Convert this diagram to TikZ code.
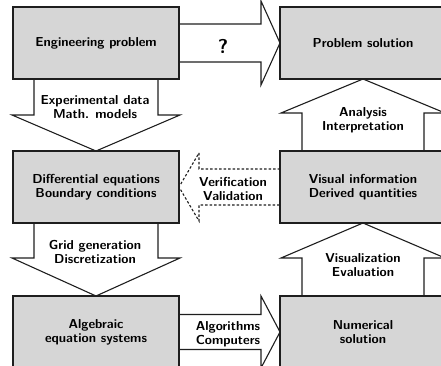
\documentclass[tikz,border=0pt]{standalone}
\usepackage{tikz}
\usetikzlibrary{calc,positioning}

\begin{document}
\begin{tikzpicture}[x=1pt,y=1pt,
  box/.style={draw=drawColor,fill=boxColor,line width=2.2pt,minimum width=166pt,minimum height=72pt,
    inner sep=0pt,outer sep=0pt,align=center,font=\fontsize{13}{14}\sffamily\bfseries},
  blockarrow/.style={draw=drawColor,line width=1.1pt,line join=miter},
  lbl/.style={align=center,inner sep=0pt,font=\fontsize{13}{14}\sffamily\bfseries}]
\definecolor{drawColor}{RGB}{30,30,30}
\definecolor{boxColor}{RGB}{214,214,214}
\path[use as bounding box] (0,0) rectangle (441,366);
\clip (0,0) rectangle (441,366);

% boxes
\node[box] (eng) at ( 96,323) {Engineering problem};
\node[box] (sol) at (363,323) {Problem solution};
\node[box] (dif) at ( 96,179) {Differential equations\\Boundary conditions};
\node[box] (vis) at (363,179) {Visual information\\Derived quantities};
\node[box] (alg) at ( 96, 34) {Algebraic\\equation systems};
\node[box] (num) at (363, 34) {Numerical\\solution};

% block arrows
\draw[blockarrow] ($(eng.east)+(0,19)$) -- ($(sol.west)+(-19,19)$) -- ($(sol.west)+(-19,42)$) --
	(sol.west) --
	($(sol.west)+(-19,-42)$) -- ($(sol.west)+(-19,-19)$) -- ($(eng.east)+(0,-19)$);

\draw[blockarrow] ($(eng.south)+(-62,0)$) -- ($(eng.south)+(-62,-36)$) -- ($(eng.south)+(-84,-36)$) --
	(dif.north) --
	($(eng.south)+(84,-36)$) -- ($(eng.south)+(62,-36)$) -- ($(eng.south)+(62,0)$);

\draw[blockarrow] ($(vis.north)+(-61,0)$) -- ($(vis.north)+(-61,38)$) -- ($(vis.north)+(-82,38)$) --
	(sol.south) --
	($(vis.north)+(82,38)$) -- ($(vis.north)+(61,38)$) -- ($(vis.north)+(61,0)$);

\draw[blockarrow,dash pattern=on 2.5pt off 2pt] ($(vis.west)+(0,18)$) -- ($(dif.east)+(20,18)$) -- ($(dif.east)+(20,34)$) --
	(dif.east) --
	($(dif.east)+(20,-34)$) -- ($(dif.east)+(20,-18)$) -- ($(vis.west)+(0,-18)$);

\draw[blockarrow] ($(dif.south)+(-62,0)$) -- ($(dif.south)+(-62,-35)$) -- ($(dif.south)+(-84,-35)$) --
	(alg.north) --
	($(dif.south)+(84,-35)$) -- ($(dif.south)+(62,-35)$) -- ($(dif.south)+(62,0)$);

\draw[blockarrow] ($(num.north)+(-61,0)$) -- ($(num.north)+(-61,38)$) -- ($(num.north)+(-82,38)$) --
	(vis.south) --
	($(num.north)+(82,38)$) -- ($(num.north)+(61,38)$) -- ($(num.north)+(61,0)$);

\draw[blockarrow] ($(alg.east)+(0,17.5)$) -- ($(num.west)+(-19,17.5)$) -- ($(num.west)+(-19,36)$) --
	(num.west) --
	($(num.west)+(-19,-36)$) -- ($(num.west)+(-19,-17.5)$) -- ($(alg.east)+(0,-17.5)$);

% arrow labels
\node[lbl,font=\fontsize{20}{22}\sffamily\bfseries] (ask) at (223,320) {?};
\node[lbl] (expl) at ( 95,259) {Experimental data\\Math. models};
\node[lbl] (anal) at (363,246) {Analysis\\Interpretation};
\node[lbl] (verl) at (233,177) {Verification\\Validation};
\node[lbl] (grdl) at ( 95,114) {Grid generation\\Discretization};
\node[lbl] (vsll) at (363,101) {Visualization\\Evaluation};
\node[lbl] (alsl) at (228, 32) {Algorithms\\Computers};
\end{tikzpicture}
\end{document}
